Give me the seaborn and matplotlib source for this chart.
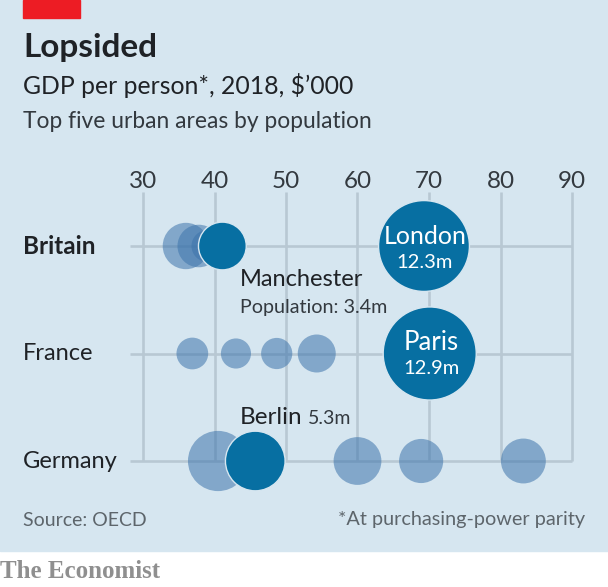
import matplotlib
matplotlib.use("Agg")
import pandas as pd
import matplotlib.pyplot as plt
from matplotlib.patches import Rectangle
import seaborn as sns

# $'000 per person, population in millions
britain_gdp = [36.0, 37.8, 39.0, 41.1, 69.3]
britain_pop = [3.2, 2.7, 1.5, 3.4, 12.3]
france_gdp = [36.9, 43.0, 48.7, 54.3, 70.1]
france_pop = [1.5, 1.35, 1.45, 2.15, 12.9]
germany_gdp = [40.5, 45.7, 60.0, 68.9, 83.2]
germany_pop = [5.4, 5.3, 3.4, 2.9, 3.0]
highlight_britain = [0, 0, 0, 1, 1]
highlight_france = [0, 0, 0, 0, 1]
highlight_germany = [0, 1, 0, 0, 0]
countries = ["Britain", "France", "Germany"]
xticks = [30, 40, 50, 60, 70, 80, 90]

BG = "#d6e6f0"
GRID = "#b8c8d3"
DARK = "#076fa2"
LIGHT = "#3d74ab"
INK = "#1f2226"
SOFT = "#33393f"
GREY = "#5d656b"

df = pd.DataFrame({
    "gdp": britain_gdp + france_gdp + germany_gdp,
    "pop": britain_pop + france_pop + germany_pop,
    "hi": highlight_britain + highlight_france + highlight_germany,
    "country": ["Britain"] * 5 + ["France"] * 5 + ["Germany"] * 5,
})

plt.rcParams["font.family"] = ["Lato", "DejaVu Sans"]

W, H = 608, 587
fig = plt.figure(figsize=(W / 100, H / 100), dpi=100, facecolor="white")
fig.add_artist(Rectangle((0, 1 - 551 / H), 1, 551 / H, transform=fig.transFigure, color=BG, zorder=-5))
fig.add_artist(Rectangle((23 / W, 1 - 18 / H), 57 / W, 18 / H, transform=fig.transFigure, color="#ed1c24"))


def figtext(x, y, s, **kw):
    kw.setdefault("color", INK)
    kw.setdefault("va", "center")
    return fig.text(x / W, 1 - y / H, s, **kw)


# axes box: x 30 at px 143, x 90 at px 572, rows at 246/353.5/461
ax = fig.add_axes([143 / W, 1 - 461 / H, (572 - 143) / W, (461 - 246) / H])
ax.patch.set_alpha(0)
ax.set_xlim(30, 90)
ax.set_ylim(2, 0)
for s in ax.spines.values():
    s.set_visible(False)
ax.set_xticks(xticks)
ax.set_xticklabels([str(t) for t in xticks], fontsize=17.5, color=SOFT)
ax.xaxis.tick_top()
ax.tick_params(axis="x", length=0, pad=39)
ax.set_yticks(range(3))
ax.set_yticklabels([])
ax.tick_params(axis="y", length=0)

# gridlines run past the top row and left of 30
top = -(246 - 192) / 107.5
for t in xticks:
    ax.plot([t, t], [top, 2], color=GRID, lw=1.9, zorder=1, clip_on=False, solid_capstyle="butt")
for i in range(3):
    ax.plot([30 - 13 / 7.15, 90], [i, i], color=GRID, lw=1.9, zorder=1, clip_on=False, solid_capstyle="butt")

df["row"] = df["country"].map({c: i for i, c in enumerate(countries)})
size_args = dict(size="pop", sizes=(0, 348 * 13), size_norm=(0, 13), legend=False, clip_on=False)
sns.scatterplot(data=df[df["hi"] == 0], x="gdp", y="row", color=LIGHT, alpha=0.55,
                linewidth=0, ax=ax, zorder=2, **size_args)
sns.scatterplot(data=df[df["hi"] == 1], x="gdp", y="row", color=DARK,
                edgecolor=BG, linewidth=1, ax=ax, zorder=3, **size_args)
ax.set_xlabel("")
ax.set_ylabel("")

figtext(23, 47, "Lopsided", fontsize=24, fontweight="bold")
figtext(23, 86, "GDP per person*, 2018, $\u2019000", fontsize=17.8)
figtext(23, 122, "Top five urban areas by population", fontsize=16.4, color=SOFT)

figtext(23, 246, "Britain", fontsize=17.5, fontweight="bold")
figtext(23, 354, "France", fontsize=17)
figtext(23, 462, "Germany", fontsize=17)

figtext(425, 237, "London", fontsize=18, color="white", ha="center")
figtext(425, 263, "12.3m", fontsize=14.5, color="white", ha="center")
figtext(431, 343, "Paris", fontsize=18.5, color="white", ha="center")
figtext(431, 369, "12.9m", fontsize=14.5, color="white", ha="center")

figtext(240, 280, "Manchester", fontsize=17)
figtext(240, 307, "Population: 3.4m", fontsize=14.2, color=SOFT)
figtext(240, 417, "Berlin", fontsize=17.5)
figtext(308, 419, "5.3m", fontsize=14, color=SOFT)

figtext(23, 520, "Source: OECD", fontsize=14, color=GREY)
figtext(585, 520, "*At purchasing-power parity", fontsize=14.3, color=GREY, ha="right")
figtext(0, 571, "The Economist", fontsize=18, color="#8f8f8f", family="Liberation Serif", fontweight="bold")

fig.savefig("out.png", dpi=100, facecolor="white")
